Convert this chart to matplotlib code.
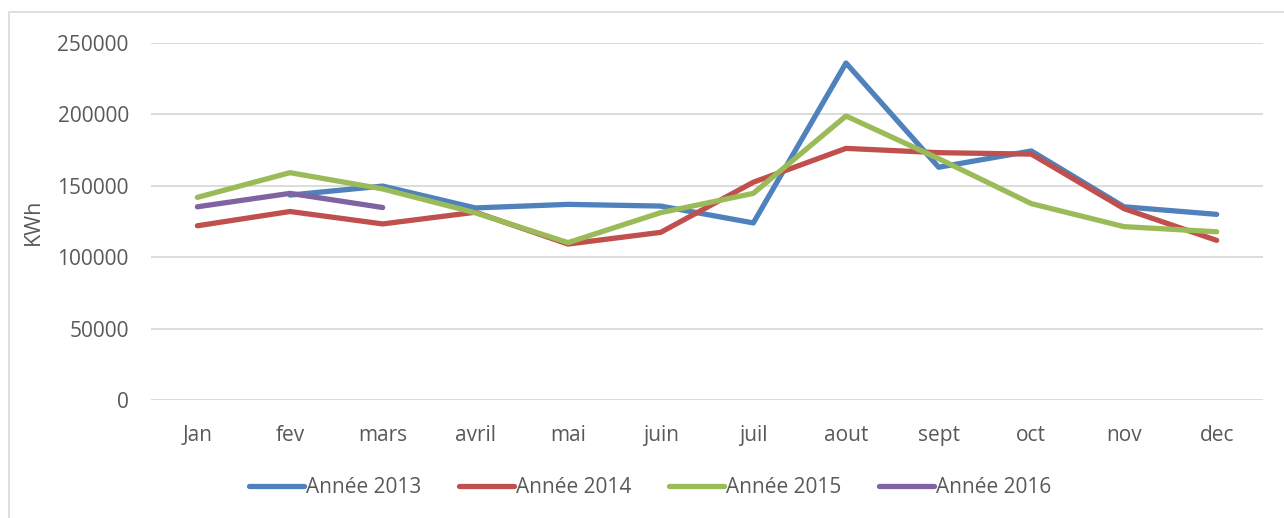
import numpy as np
import matplotlib
matplotlib.use('Agg')
import matplotlib.pyplot as plt
from matplotlib.patches import Rectangle

months = ['Jan', 'fev', 'mars', 'avril', 'mai', 'juin', 'juil', 'aout', 'sept', 'oct', 'nov', 'dec']
y2013 = [None, 143500, 149800, 134500, 137000, 135800, 124000, 236000, 163000, 174400, 135300, 130000]
y2014 = [122000, 132000, 123300, 131500, 109200, 117400, 152500, 176200, 173200, 172200, 134000, 111800]
y2015 = [141900, 159200, 147800, 131100, 110200, 131200, 144700, 198900, 169000, 137500, 121400, 117800]
y2016 = [135300, 144700, 134800]
labels = ['Année 2013', 'Année 2014', 'Année 2015', 'Année 2016']
colors = ['#4F81BD', '#C0504D', '#9BBB59', '#8064A2']

plt.rcParams['font.family'] = ['Open Sans', 'DejaVu Sans']

fig = plt.figure(figsize=(12.84, 5.18), dpi=100)
ax = fig.add_axes([151 / 1284, 1 - 400 / 518, (1263 - 151) / 1284, (400 - 43) / 518])

x = np.arange(len(months))
series = [y2013, y2014, y2015, y2016]
for vals, lab, col in zip(series, labels, colors):
    xs = [i for i, v in enumerate(vals) if v is not None]
    ys = [v for v in vals if v is not None]
    ax.plot(xs, ys, color=col, lw=3.8, label=lab, solid_capstyle='round', solid_joinstyle='round')

ax.set_xlim(-0.5, len(months) - 0.5)
ax.set_ylim(0, 250000)
ax.set_yticks(range(0, 250001, 50000))
ax.set_xticks(x)
ax.set_xticklabels(months)
ax.grid(axis='y', color='#d9d9d9', lw=1.3)
ax.set_axisbelow(True)
for s in ax.spines.values():
    s.set_visible(False)
ax.tick_params(axis='both', length=0, labelsize=15, colors='#595959')
ax.tick_params(axis='y', pad=16)
ax.tick_params(axis='x', pad=18)
ax.set_ylabel('KWh', fontsize=15.5, color='#595959', labelpad=10)

ax.legend(loc='center', bbox_to_anchor=(0.449, -0.245), ncol=4, frameon=False,
          fontsize=15, handlelength=2.65, handletextpad=0.1, columnspacing=1.8,
          labelcolor='#595959')

fig.patches.append(Rectangle((9 / 1284, -0.01), 1.0, 1 - 12 / 518 + 0.01,
                             transform=fig.transFigure, fill=False,
                             edgecolor='#d9d9d9', lw=1.2))

fig.savefig('out.png', dpi=100)
